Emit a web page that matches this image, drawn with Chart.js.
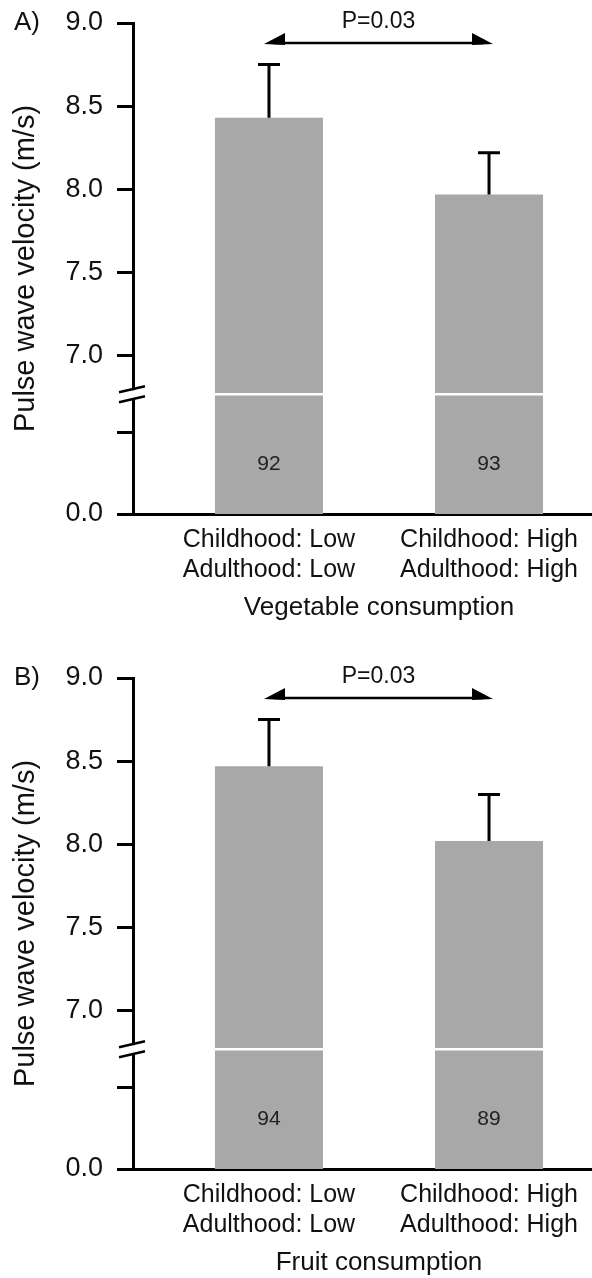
<!DOCTYPE html>
<html>
<head>
<meta charset="utf-8">
<script src="https://cdn.jsdelivr.net/npm/chart.js@4.4.1/dist/chart.umd.min.js"></script>
<style>
  body { margin: 0; background: #fff; }
  .panel { position: relative; width: 592px; height: 623px; }
  .panel + .panel { margin-top: 32px; }
</style>
</head>
<body>
<div class="panel"><canvas id="vegChart"></canvas></div>
<div class="panel"><canvas id="fruitChart"></canvas></div>
<script>
const groups = [['Childhood: Low', 'Adulthood: Low'], ['Childhood: High', 'Adulthood: High']];

const vegMean = [8.43, 7.97];
const vegUpper = [8.75, 8.22];
const vegN = [92, 93];

const fruitMean = [8.47, 8.02];
const fruitUpper = [8.75, 8.30];
const fruitN = [94, 89];

// broken axis: below the break 6.05 stands for 0.0
const yTicks = [6.05, 6.54, 7.0, 7.5, 8.0, 8.5, 9.0];
const yTickLabels = ['0.0', '', '7.0', '7.5', '8.0', '8.5', '9.0'];
const breakAt = 6.77;
const nLabelAt = 6.35;
const bracketAt = 8.88;

const FONT = "'Liberation Sans', Arial, Helvetica, sans-serif";
const INK = '#111';
Chart.defaults.font.family = FONT;
Chart.defaults.color = INK;

function makePanel(id, letter, xTitle, means, upper, counts, pText) {
    const extras = {
        id: 'extras',
        afterDatasetsDraw(chart) {
            const { ctx, scales: { y } } = chart;
            const bars = chart.getDatasetMeta(0).data;
            ctx.save();

            // white cut through the bars at the break
            const yb = y.getPixelForValue(breakAt);
            ctx.strokeStyle = '#fff';
            ctx.lineWidth = 2.5;
            bars.forEach(b => {
                ctx.beginPath();
                ctx.moveTo(b.x - b.width / 2, yb);
                ctx.lineTo(b.x + b.width / 2, yb);
                ctx.stroke();
            });

            // upper error bars
            ctx.strokeStyle = '#000';
            ctx.lineWidth = 3;
            bars.forEach((b, i) => {
                const yc = y.getPixelForValue(upper[i]);
                ctx.beginPath();
                ctx.moveTo(b.x, b.y);
                ctx.lineTo(b.x, yc);
                ctx.moveTo(b.x - 11, yc);
                ctx.lineTo(b.x + 11, yc);
                ctx.stroke();
            });

            // group sizes
            ctx.fillStyle = '#222';
            ctx.font = '21px ' + FONT;
            ctx.textAlign = 'center';
            ctx.textBaseline = 'middle';
            bars.forEach((b, i) => ctx.fillText(String(counts[i]), b.x, y.getPixelForValue(nLabelAt)));
            ctx.restore();
        },
        afterDraw(chart) {
            const { ctx, chartArea, scales: { x, y } } = chart;
            ctx.save();

            // axis break marks
            const ax = chartArea.left;
            const yb = y.getPixelForValue(breakAt);
            ctx.fillStyle = '#fff';
            ctx.fillRect(ax - 3, yb - 4, 6, 8);
            ctx.strokeStyle = '#000';
            ctx.lineWidth = 2.5;
            [-5, 5].forEach(d => {
                ctx.beginPath();
                ctx.moveTo(ax - 14, yb + d + 3);
                ctx.lineTo(ax + 12, yb + d - 3);
                ctx.stroke();
            });

            // comparison arrow
            const x1 = x.getPixelForValue(0) - 5;
            const x2 = x.getPixelForValue(1) + 4;
            const yl = y.getPixelForValue(bracketAt);
            ctx.fillStyle = '#000';
            ctx.beginPath();
            ctx.moveTo(x1 + 10, yl);
            ctx.lineTo(x2 - 10, yl);
            ctx.stroke();
            ctx.beginPath();
            ctx.moveTo(x1, yl + 1);
            ctx.lineTo(x1 + 21, yl - 10);
            ctx.lineTo(x1 + 21, yl + 2);
            ctx.closePath();
            ctx.fill();
            ctx.beginPath();
            ctx.moveTo(x2, yl + 1);
            ctx.lineTo(x2 - 21, yl - 10);
            ctx.lineTo(x2 - 21, yl + 2);
            ctx.closePath();
            ctx.fill();

            ctx.fillStyle = INK;
            ctx.textAlign = 'center';
            ctx.textBaseline = 'middle';
            ctx.font = '23px ' + FONT;
            ctx.fillText(pText, (x1 + x2) / 2, yl - 21);

            // x axis title, centred between the groups
            ctx.font = '26px ' + FONT;
            const mid = (x.getPixelForValue(0) + x.getPixelForValue(1)) / 2;
            ctx.fillText(xTitle, mid, chartArea.bottom + 94);

            // panel letter
            ctx.textAlign = 'left';
            ctx.fillText(letter + ')', 14, y.getPixelForValue(yTicks[yTicks.length - 1]));
            ctx.restore();
        }
    };

    return new Chart(document.getElementById(id), {
        type: 'bar',
        data: {
            datasets: [{
                data: means.map((v, i) => ({ x: i, y: v })),
                backgroundColor: '#a8a8a8',
                borderWidth: 0,
                barPercentage: 0.491,
                categoryPercentage: 1
            }]
        },
        options: {
            responsive: true,
            maintainAspectRatio: false,
            animation: false,
            layout: { padding: { top: 23, right: 0, bottom: 0, left: 0 } },
            plugins: { legend: { display: false }, tooltip: { enabled: false } },
            scales: {
                x: {
                    type: 'linear',
                    offset: false,
                    min: -0.618,
                    max: 1.468,
                    z: 1,
                    afterBuildTicks: s => { s.ticks = groups.map((g, i) => ({ value: i })); },
                    afterFit: s => { s.height = 109; },
                    grid: { display: false, drawTicks: false },
                    border: { display: true, color: '#000', width: 3 },
                    ticks: {
                        padding: 11,
                        autoSkip: false,
                        maxRotation: 0,
                        color: INK,
                        font: { size: 25, lineHeight: 1.2 },
                        callback: v => groups[v]
                    }
                },
                y: {
                    min: yTicks[0],
                    max: yTicks[yTicks.length - 1],
                    z: 1,
                    afterBuildTicks: s => { s.ticks = yTicks.map(v => ({ value: v })); },
                    afterFit: s => {
                        s.width = 133;
                        s.paddingTop = 0;
                        s.paddingBottom = 0;
                    },
                    grid: { drawOnChartArea: false, tickLength: 16, lineWidth: 3, color: '#000' },
                    border: { color: '#000', width: 3 },
                    ticks: {
                        padding: 14,
                        autoSkip: false,
                        color: INK,
                        font: { size: 27 },
                        callback: (v, i) => yTickLabels[i]
                    },
                    title: {
                        display: true,
                        text: 'Pulse wave velocity (m/s)',
                        color: INK,
                        font: { size: 29 },
                        padding: { top: 9, bottom: 0 }
                    }
                }
            }
        },
        plugins: [extras]
    });
}

makePanel('vegChart', 'A', 'Vegetable consumption', vegMean, vegUpper, vegN, 'P=0.03');
makePanel('fruitChart', 'B', 'Fruit consumption', fruitMean, fruitUpper, fruitN, 'P=0.03');
</script>
</body>
</html>
